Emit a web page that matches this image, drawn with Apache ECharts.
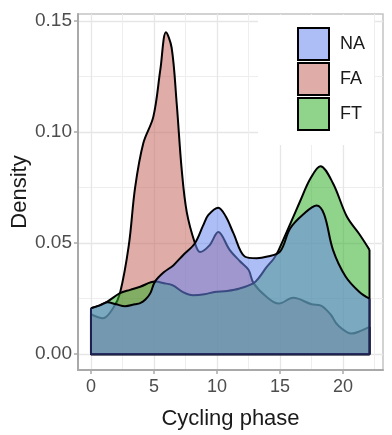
<!DOCTYPE html>
<html>
<head>
<meta charset="utf-8">
<script src="https://cdn.jsdelivr.net/npm/echarts@6/dist/echarts.min.js"></script>
<style>
html,body{margin:0;padding:0;background:#fff;}
#chart{width:392px;height:435px;}
</style>
</head>
<body>
<div id="chart"></div>
<script>
// ---- data ----
const groups = ['NA', 'FA', 'FT'];
const xTicks = [0, 5, 10, 15, 20];
const xMinorTicks = [2.5, 7.5, 12.5, 17.5, 22.5];
const yTicks = [0, 0.05, 0.10, 0.15];
const yMinorTicks = [0.025, 0.075, 0.125];

const faX = [0, 0.95, 1.75, 2.3, 3.0, 3.5, 4.15, 4.95, 5.5, 5.95, 6.4, 6.8, 7.2, 7.6, 8.25, 8.65, 9.4, 10.1, 11.0, 11.8, 12.5, 12.9, 13.9, 14.9, 16.05, 17.5, 18.2, 19.0, 19.6, 20.7, 21.4, 22.1];
const faY = [0.018, 0.0162, 0.0207, 0.0275, 0.049, 0.075, 0.095, 0.107, 0.128, 0.145, 0.138, 0.113, 0.083, 0.064, 0.050, 0.046, 0.049, 0.055, 0.047, 0.042, 0.038, 0.032, 0.026, 0.0228, 0.0254, 0.0225, 0.022, 0.018, 0.013, 0.0093, 0.0105, 0.0123];

const ftX = [0, 0.7, 1.3, 2.3, 3.1, 3.9, 5.08, 5.8, 6.5, 7.3, 8.1, 9.0, 9.8, 10.8, 11.8, 12.9, 13.4, 13.9, 14.5, 14.9, 15.8, 16.6, 17.4, 18.2, 19.2, 20.3, 21.3, 22.1];
const ftY = [0.0207, 0.022, 0.0237, 0.0275, 0.029, 0.0304, 0.0327, 0.032, 0.031, 0.028, 0.0266, 0.027, 0.028, 0.0285, 0.0296, 0.032, 0.035, 0.039, 0.043, 0.047, 0.0586, 0.069, 0.079, 0.0847, 0.077, 0.062, 0.054, 0.047];

const naX = [0, 0.7, 1.3, 2.0, 2.7, 3.5, 3.9, 4.3, 4.7, 5.08, 5.8, 6.53, 7.3, 8.25, 8.9, 9.3, 10.1, 10.7, 11.3, 12.2, 13.15, 14.0, 15.0, 15.8, 16.85, 17.9, 18.5, 19.2, 20.2, 21.3, 22.1];
const naY = [0.0207, 0.022, 0.0234, 0.0225, 0.0216, 0.0225, 0.023, 0.0245, 0.0274, 0.0327, 0.037, 0.040, 0.0446, 0.050, 0.058, 0.0626, 0.066, 0.062, 0.0545, 0.044, 0.0432, 0.044, 0.0462, 0.0566, 0.063, 0.067, 0.063, 0.047, 0.035, 0.028, 0.025];

// ---- styling ----
const FONT = 'Liberation Sans, Arial, sans-serif';
const legendColor = { NA: '#adbdf5', FA: '#e0aca8', FT: '#90d38b' };
const fillColor = { NA: 'rgba(106,135,237,0.55)', FA: 'rgba(199,104,97,0.55)', FT: 'rgba(53,175,44,0.55)' };

function pairs(xs, ys) { return xs.map((x, i) => [x, ys[i]]); }
function edges(xs, ys) {
  const n = xs.length - 1;
  return [[xs[0], ys[0]], [xs[0], 0], [xs[n], 0], [xs[n], ys[n]]];
}

const dataByGroup = { NA: [naX, naY], FA: [faX, faY], FT: [ftX, ftY] };
const drawOrder = ['FA', 'FT', 'NA'];
const series = [];
drawOrder.forEach((g, k) => {
  const [xs, ys] = dataByGroup[g];
  const z = 3 + k * 2;
  series.push({
    name: g, type: 'line', xAxisIndex: 0, yAxisIndex: 0, z: z,
    data: pairs(xs, ys), smooth: 0.35, showSymbol: false, symbol: 'none',
    itemStyle: { color: legendColor[g] },
    lineStyle: { color: '#000', width: 2 },
    areaStyle: { color: fillColor[g], opacity: 1 },
    silent: true
  });
  series.push({
    name: g + ' edge', type: 'line', xAxisIndex: 0, yAxisIndex: 0, z: z,
    data: edges(xs, ys), showSymbol: false, symbol: 'none',
    lineStyle: { color: g === 'NA' ? '#1c2150' : '#000', width: 2 }, silent: true
  });
});

const X_MIN = -1.03, X_MAX = 23.17, Y_MIN = -0.0071, Y_MAX = 0.1532;
const axisLineCol = '#a9a9a9';

const option = {
  animation: false,
  backgroundColor: '#fff',
  grid: { left: 78, top: 14, right: 9, bottom: 65, containLabel: false, outerBoundsMode: 'none',
    show: true, borderColor: '#c4c4c4', borderWidth: 1.5, backgroundColor: 'transparent' },
  legend: {
    data: groups, orient: 'vertical', left: 258, top: 15, z: 20,
    padding: [12, 9, 14, 39], itemWidth: 31, itemHeight: 32, itemGap: 1,
    icon: 'rect', backgroundColor: '#fff', selectedMode: false,
    itemStyle: { borderColor: '#000', borderWidth: 2 },
    textStyle: { fontSize: 18, color: '#1a1a1a', fontFamily: FONT, padding: [0, 0, 0, 6] }
  },
  xAxis: [
    {
      type: 'value', min: X_MIN, max: X_MAX, position: 'bottom',
      name: 'Cycling phase', nameLocation: 'middle', nameGap: 38, nameMoveOverlap: false,
      nameTextStyle: { fontSize: 22, color: '#1a1a1a', fontFamily: FONT },
      axisLine: { show: true, onZero: false, lineStyle: { color: axisLineCol, width: 2 } },
      axisTick: { show: true, length: 4, customValues: xTicks, lineStyle: { color: axisLineCol, width: 1.5 } },
      axisLabel: { customValues: xTicks, fontSize: 18, color: '#4d4d4d', fontFamily: FONT, margin: 8 },
      splitLine: { show: true, lineStyle: { color: '#e6e6e6', width: 1.3 } }
    },
    {
      type: 'value', min: X_MIN, max: X_MAX, position: 'bottom',
      axisLine: { show: false }, axisTick: { show: false, customValues: xMinorTicks },
      axisLabel: { show: false, customValues: xMinorTicks },
      splitLine: { show: true, lineStyle: { color: '#eeeeee', width: 1 } }
    }
  ],
  yAxis: [
    {
      type: 'value', min: Y_MIN, max: Y_MAX, position: 'left',
      name: 'Density', nameLocation: 'middle', nameGap: 47, nameRotate: 90, nameMoveOverlap: false,
      nameTextStyle: { fontSize: 22, color: '#1a1a1a', fontFamily: FONT },
      axisLine: { show: true, onZero: false, lineStyle: { color: axisLineCol, width: 2 } },
      axisTick: { show: true, length: 4, customValues: yTicks, lineStyle: { color: axisLineCol, width: 1.5 } },
      axisLabel: { customValues: yTicks, fontSize: 19, color: '#4d4d4d', fontFamily: FONT, margin: 6,
        formatter: v => Number(v).toFixed(2) },
      splitLine: { show: true, lineStyle: { color: '#e6e6e6', width: 1.3 } }
    },
    {
      type: 'value', min: Y_MIN, max: Y_MAX, position: 'left',
      axisLine: { show: false }, axisTick: { show: false, customValues: yMinorTicks },
      axisLabel: { show: false, customValues: yMinorTicks },
      splitLine: { show: true, lineStyle: { color: '#eeeeee', width: 1 } }
    }
  ],
  series: series
};

const chart = echarts.init(document.getElementById('chart'), null, { renderer: 'canvas' });
chart.setOption(option);
</script>
</body>
</html>
